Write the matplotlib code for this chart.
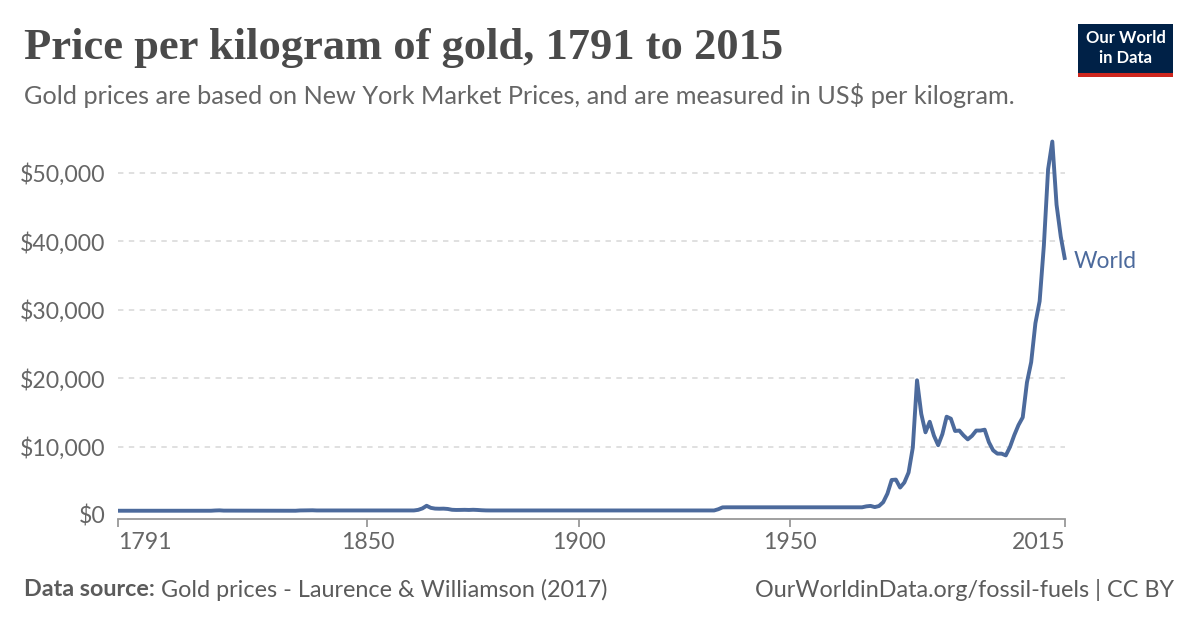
import matplotlib
matplotlib.use("Agg")
import matplotlib.pyplot as plt
from matplotlib.patches import Rectangle
from matplotlib.ticker import FuncFormatter

# ---- data (US$ per kilogram; flat stretches given by their end points) ----
years = [1791, 1813, 1814, 1815, 1816, 1833, 1834, 1836, 1837, 1838, 1861, 1862, 1863, 1864,
         1865, 1866, 1867, 1868, 1869, 1870, 1871, 1872, 1873, 1874, 1875, 1876, 1877, 1878,
         1879, 1932, 1933, 1934, 1935, 1967, 1968, 1969, 1970, 1971, 1972, 1973, 1974, 1975,
         1976, 1977, 1978, 1979, 1980, 1981, 1982, 1983, 1984, 1985, 1986, 1987, 1988, 1989,
         1990, 1991, 1992, 1993, 1994, 1995, 1996, 1997, 1998, 1999, 2000, 2001, 2002, 2003,
         2004, 2005, 2006, 2007, 2008, 2009, 2010, 2011, 2012, 2013, 2014, 2015]
prices = [623, 623, 660, 680, 640, 623, 664, 680, 690, 664, 664, 750, 963, 1350,
          1043, 936, 916, 930, 883, 764, 737, 744, 757, 737, 764, 737, 697, 671,
          664, 664, 846, 1115, 1125, 1125, 1263, 1328, 1157, 1312, 1871, 3128, 5122, 5176,
          4012, 4752, 6211, 9861, 19695, 14790, 12085, 13632, 11597, 10204, 11832, 14371, 14082, 12282,
          12346, 11638, 11060, 11574, 12346, 12346, 12474, 10642, 9452, 8970, 8970, 8713, 9967, 11671,
          13150, 14275, 19387, 22345, 28036, 31251, 39384, 50541, 54600, 45365, 40703, 37295]
series_name = "World"
x_ticks = [1791, 1850, 1900, 1950, 2015]
y_ticks = [0, 10000, 20000, 30000, 40000, 50000]

title = "Price per kilogram of gold, 1791 to 2015"
subtitle = "Gold prices are based on New York Market Prices, and are measured in US$ per kilogram."
source_bold = "Data source:"
source_rest = " Gold prices - Laurence & Williamson (2017)"
footer_right = "OurWorldinData.org/fossil-fuels | CC BY"

# ---- styling ----
W, H = 1200, 628
LINE = "#4c6a9c"
GREY = "#666666"
SANS = ["Lato", "DejaVu Sans"]

fig = plt.figure(figsize=(W / 100, H / 100), dpi=100)
fig.patch.set_facecolor("white")

def fx(px):
    return px / W

def fy(py):
    return 1 - py / H

ymax = 56000
left_px, right_px = 118, 1065
zero_px = 515
top_px = zero_px - ymax * (342 / 50000)
ax = fig.add_axes([fx(left_px), fy(zero_px), fx(right_px - left_px), (zero_px - top_px) / H])
ax.set_xlim(x_ticks[0], x_ticks[-1])
ax.set_ylim(0, ymax)

ax.plot(years, prices, color=LINE, lw=2.8, solid_joinstyle="round", solid_capstyle="butt",
        clip_on=False, zorder=3)

for s in ["left", "right", "top"]:
    ax.spines[s].set_visible(False)
ax.spines["bottom"].set_color("#999999")
ax.spines["bottom"].set_linewidth(1.3)
ax.spines["bottom"].set_position(("outward", 3))

ax.set_yticks(y_ticks)
ax.yaxis.set_major_formatter(FuncFormatter(lambda v, p: f"${v:,.0f}"))
ax.tick_params(axis="y", length=0, pad=9, labelsize=16.6, labelcolor=GREY)
for lab in ax.get_yticklabels():
    lab.set_family(SANS)
ax.grid(axis="y", color="#dddddd", lw=1.3, ls=(0, (3, 3)))
ax.set_axisbelow(True)
for gl in ax.get_ygridlines():
    if gl.get_ydata()[0] == 0:
        gl.set_visible(False)

ax.set_xticks(x_ticks)
ax.set_xticklabels([str(t) for t in x_ticks])
ax.tick_params(axis="x", length=6, width=1.3, color="#999999", pad=3, labelsize=16.6, labelcolor=GREY)
xl = ax.get_xticklabels()
for lab in xl:
    lab.set_family(SANS)
xl[0].set_ha("left")
xl[-1].set_ha("right")

ax.annotate(series_name, (years[-1], prices[-1]), xytext=(6, -1), textcoords="offset points",
            color=LINE, fontsize=16.4, family=SANS, va="center", ha="left", annotation_clip=False)

# ---- titles ----
fig.text(fx(24), fy(48), title, fontsize=32, fontweight="bold", color="#4a4a4a",
         family=["Liberation Serif", "DejaVu Serif"], va="center", ha="left")
fig.text(fx(24), fy(96), subtitle, fontsize=18.2, color=GREY, family=SANS, va="center", ha="left")

# ---- footer ----
FS = 16.8
t1 = fig.text(fx(24), fy(590), source_bold, fontsize=FS, fontweight="bold", color="#5b5b5b",
              family=SANS, va="center", ha="left")
fig.canvas.draw()
bb = t1.get_window_extent()
fig.text(bb.x1 / W, fy(590), source_rest, fontsize=FS, color="#5b5b5b", family=SANS,
         va="center", ha="left")
fig.text(fx(1174), fy(590), footer_right, fontsize=FS, color="#5b5b5b", family=SANS,
         va="center", ha="right")

# ---- logo ----
lx0, ly0, lw, lh = 1078, 24, 95, 53
fig.patches.append(Rectangle((fx(lx0), fy(ly0 + lh)), fx(lw), lh / H, transform=fig.transFigure,
                             facecolor="#002147", edgecolor="none"))
fig.patches.append(Rectangle((fx(lx0), fy(ly0 + lh)), fx(lw), 4 / H, transform=fig.transFigure,
                             facecolor="#ce261e", edgecolor="none"))
fig.text(fx(lx0 + lw / 2), fy(ly0 + 24), "Our World\nin Data", fontsize=12, color="white",
         family=SANS, fontweight="bold", ha="center", va="center", linespacing=1.3)

fig.savefig("out.png", dpi=100, facecolor="white")
